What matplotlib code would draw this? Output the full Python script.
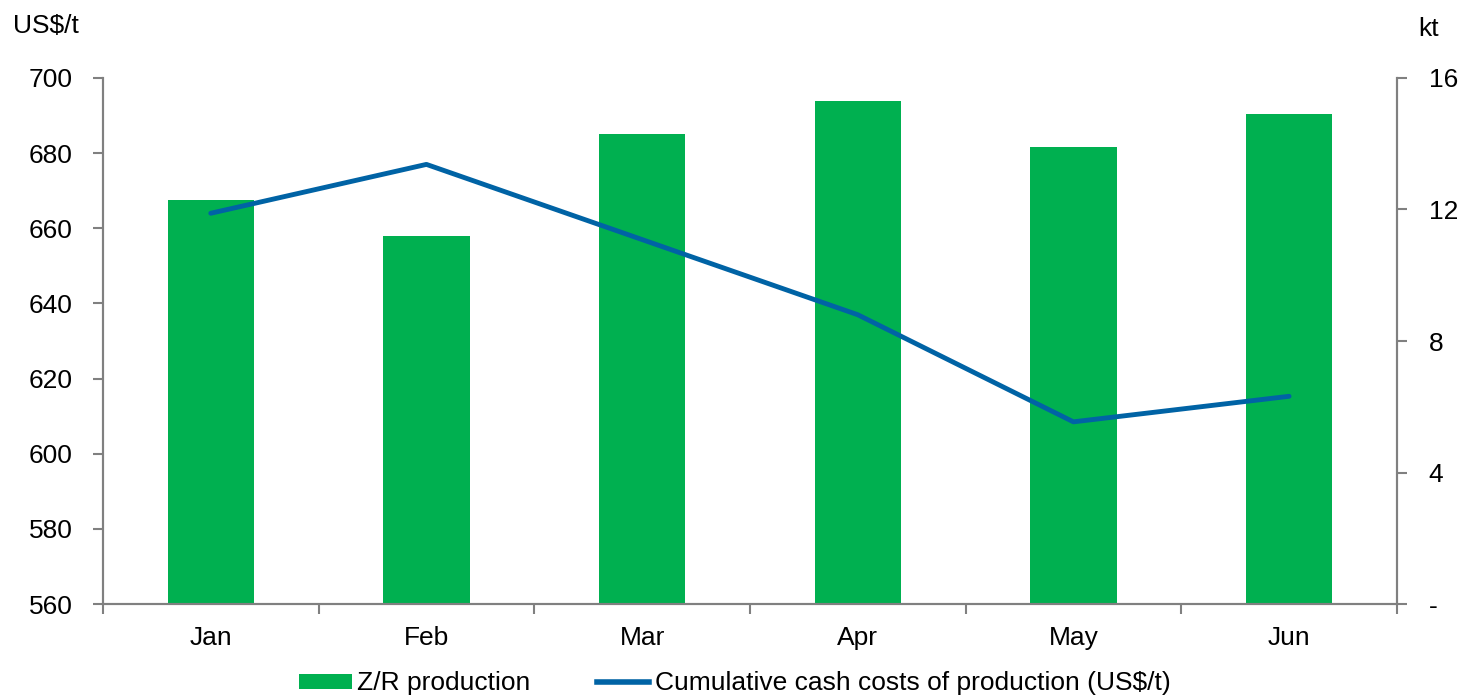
import numpy as np
from matplotlib import pyplot as plt
from matplotlib.patches import Patch
from matplotlib.lines import Line2D

plt.rcParams['font.family'] = ['Liberation Sans', 'DejaVu Sans']

months = ["Jan", "Feb", "Mar", "Apr", "May", "Jun"]
production_kt = [12.3, 11.2, 14.3, 15.3, 13.9, 14.9]  # Z/R production, kt
cash_cost = [664, 677, 657, 637, 608.5, 615.3]  # cumulative cash costs, US$/t

green = "#00B050"
blue = "#0063A5"
grey = "#808080"

fig = plt.figure(figsize=(14.58, 6.96), dpi=100)
ax = fig.add_axes([0.0706, 0.132, 0.8875, 0.756])
ax2 = ax.twinx()

x = np.arange(len(months))
ax2.bar(x, production_kt, width=0.4, color=green, zorder=1)
ax.plot(x, cash_cost, color=blue, lw=3.5, solid_capstyle="round", zorder=3)

# line drawn above the bars
ax.set_zorder(ax2.get_zorder() + 1)
ax.patch.set_visible(False)

ax.set_xlim(-0.5, len(months) - 0.5)
ax.set_ylim(560, 700)
ax.set_yticks(np.arange(560, 701, 20))
ax2.set_ylim(0, 16)
ax2.set_yticks([0, 4, 8, 12, 16])
ax2.set_yticklabels(["-", "4", "8", "12", "16"])

ax.set_xticks(x)
ax.set_xticklabels(months)
ax.set_xticks(np.arange(-0.5, len(months), 1), minor=True)
ax.tick_params(axis="x", which="major", length=0, pad=16, labelsize=19)
ax.tick_params(axis="x", which="minor", length=7, width=1.5, color=grey, direction="out")
ax.tick_params(axis="y", length=7, width=1.5, color=grey, pad=15, labelsize=19)
ax2.tick_params(axis="y", length=7, width=1.5, color=grey, pad=16, labelsize=19)

for a in (ax, ax2):
    a.spines["top"].set_visible(False)
    for side in ("left", "right", "bottom"):
        a.spines[side].set_color(grey)
        a.spines[side].set_linewidth(1.5)

fig.text(0.009, 0.963, "US$/t", fontsize=19, va="center", ha="left")
fig.text(0.973, 0.958, "kt", fontsize=19, va="center", ha="left")

handles = [Patch(facecolor=green, edgecolor="none"),
           Line2D([0], [0], color=blue, lw=4)]
fig.legend(handles, ["Z/R production", "Cumulative cash costs of production (US$/t)"],
           loc="center", bbox_to_anchor=(0.504, 0.018), ncol=2, frameon=False,
           fontsize=19, handlelength=2.0, handleheight=0.5, handletextpad=0.2,
           columnspacing=2.5)

fig.savefig("out.png", dpi=100)
